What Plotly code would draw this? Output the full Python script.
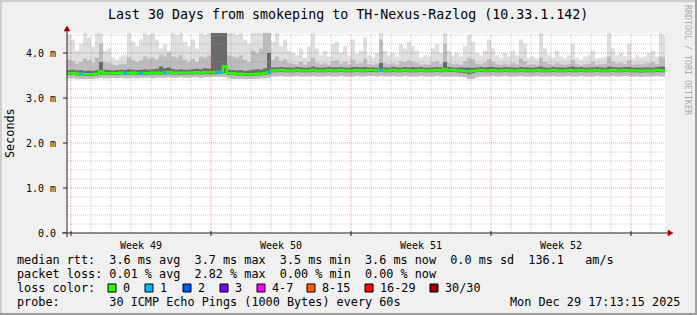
import plotly.graph_objects as go
import pandas as pd

TITLE = "Last 30 Days from smokeping to TH-Nexus-Razlog (10.33.1.142)"
START = "2025-11-29 19:12:00"   # first bucket edge
BUCKET_H = 4.8                  # hours per bucket
X_RANGE = ["2025-11-29 19:12:00", "2025-12-29 16:48:00"]
Y_MAX = 4.4444

# median rtt (ms) per bucket
median = [
    3.55,3.55,3.54,3.54,3.53,3.53,3.53,3.54,3.59,3.55,
    3.55,3.55,3.55,3.56,3.55,3.55,3.56,3.55,3.55,3.55,
    3.55,3.56,3.56,3.55,3.56,3.57,3.56,3.56,3.56,3.56,
    3.56,3.56,3.57,3.56,3.57,3.57,3.57,3.57,3.58,3.70,
    3.55,3.55,3.54,3.54,3.53,3.53,3.53,3.54,3.54,3.55,
    3.57,3.61,3.61,3.62,3.61,3.61,3.61,3.62,3.61,3.61,
    3.61,3.62,3.61,3.61,3.61,3.62,3.61,3.61,3.62,3.61,
    3.61,3.61,3.62,3.61,3.61,3.62,3.62,3.61,3.62,3.61,
    3.61,3.62,3.61,3.61,3.62,3.61,3.61,3.61,3.62,3.61,
    3.61,3.61,3.62,3.61,3.64,3.62,3.62,3.61,3.61,3.60,
    3.59,3.60,3.61,3.62,3.61,3.61,3.62,3.61,3.61,3.62,
    3.61,3.61,3.61,3.62,3.61,3.61,3.61,3.62,3.61,3.61,
    3.61,3.62,3.61,3.61,3.61,3.62,3.61,3.61,3.62,3.61,
    3.61,3.61,3.62,3.61,3.61,3.61,3.62,3.61,3.61,3.62,
    3.61,3.61,3.61,3.60,3.61,3.61,3.61,3.62,3.61,3.61,
]

# lost pings per bucket (out of 30)
loss = [0]*150
loss_events = {3: 1, 14: 1, 18: 1, 24: 1, 37: 1, 38: 1, 50: 1, 78: 1}
for k, v in loss_events.items():
    loss[k] = v

# lowest ping (ms)
smoke_lo = [
    3.44,3.44,3.43,3.43,3.42,3.43,3.43,3.44,3.45,3.44,
    3.44,3.45,3.44,3.45,3.44,3.44,3.45,3.44,3.45,3.45,
    3.45,3.44,3.45,3.45,3.45,3.46,3.45,3.45,3.46,3.45,
    3.45,3.46,3.46,3.45,3.46,3.46,3.47,3.47,3.47,3.47,
    3.44,3.43,3.43,3.43,3.42,3.42,3.43,3.43,3.44,3.44,
    3.45,3.48,3.48,3.49,3.48,3.48,3.48,3.49,3.48,3.48,
    3.48,3.49,3.48,3.48,3.48,3.49,3.48,3.48,3.49,3.48,
    3.48,3.48,3.49,3.48,3.48,3.49,3.49,3.48,3.49,3.48,
    3.48,3.49,3.48,3.48,3.49,3.48,3.48,3.48,3.49,3.48,
    3.48,3.48,3.49,3.48,3.47,3.48,3.48,3.48,3.47,3.46,
    3.42,3.43,3.46,3.48,3.48,3.48,3.49,3.48,3.48,3.49,
    3.48,3.48,3.48,3.49,3.48,3.48,3.48,3.49,3.48,3.48,
    3.48,3.49,3.48,3.48,3.48,3.49,3.48,3.48,3.49,3.48,
    3.48,3.48,3.49,3.48,3.48,3.48,3.49,3.48,3.48,3.49,
    3.48,3.48,3.48,3.47,3.48,3.48,3.48,3.49,3.48,3.48,
]

# bottom of dense core
core_lo = [
    3.51,3.51,3.50,3.50,3.49,3.49,3.49,3.50,3.52,3.51,
    3.51,3.51,3.51,3.52,3.51,3.51,3.52,3.51,3.51,3.51,
    3.51,3.52,3.52,3.51,3.52,3.53,3.52,3.52,3.52,3.52,
    3.52,3.52,3.53,3.52,3.53,3.53,3.53,3.53,3.54,3.55,
    3.51,3.51,3.50,3.50,3.49,3.49,3.49,3.50,3.50,3.51,
    3.53,3.57,3.57,3.58,3.57,3.57,3.57,3.58,3.57,3.57,
    3.57,3.58,3.57,3.57,3.57,3.58,3.57,3.57,3.58,3.57,
    3.57,3.57,3.58,3.57,3.57,3.58,3.58,3.57,3.58,3.57,
    3.57,3.58,3.57,3.57,3.58,3.57,3.57,3.57,3.58,3.57,
    3.57,3.57,3.58,3.57,3.59,3.58,3.58,3.57,3.56,3.55,
    3.53,3.55,3.57,3.58,3.57,3.57,3.58,3.57,3.57,3.58,
    3.57,3.57,3.57,3.58,3.57,3.57,3.57,3.58,3.57,3.57,
    3.57,3.58,3.57,3.57,3.57,3.58,3.57,3.57,3.58,3.57,
    3.57,3.57,3.58,3.57,3.57,3.57,3.58,3.57,3.57,3.58,
    3.57,3.57,3.57,3.56,3.57,3.57,3.57,3.58,3.57,3.57,
]

# top of dense core
core_hi = [
    3.62,3.63,3.61,3.62,3.60,3.61,3.60,3.62,3.80,3.63,
    3.62,3.61,3.62,3.63,3.62,3.64,3.63,3.62,3.63,3.64,
    3.63,3.64,3.65,3.70,3.66,3.68,3.64,3.63,3.64,3.63,
    3.63,3.64,3.65,3.64,3.66,3.65,4.50,4.50,4.50,4.50,
    3.63,3.62,3.61,3.62,3.60,3.61,3.63,3.64,3.63,3.66,
    4.00,3.68,3.68,3.69,3.68,3.68,3.67,3.69,3.68,3.67,
    3.68,3.70,3.68,3.67,3.68,3.69,3.68,3.68,3.69,3.68,
    3.67,3.69,3.69,3.68,3.69,3.68,3.68,3.67,3.78,3.68,
    3.67,3.69,3.68,3.67,3.69,3.68,3.69,3.68,3.69,3.67,
    3.68,3.68,3.69,3.68,3.80,3.69,3.68,3.67,3.68,3.68,
    3.68,3.67,3.68,3.69,3.68,3.69,3.69,3.68,3.67,3.69,
    3.68,3.68,3.67,3.69,3.68,3.68,3.67,3.69,3.70,3.68,
    3.67,3.69,3.68,3.68,3.67,3.69,3.70,3.68,3.69,3.67,
    3.68,3.68,3.69,3.68,3.67,3.70,3.69,3.68,3.68,3.69,
    3.69,3.67,3.68,3.67,3.68,3.68,3.67,3.69,3.70,3.70,
]

# top of the middle smoke
smoke_mid = [
    3.85,3.82,3.76,3.80,3.88,3.84,3.78,3.90,4.20,3.80,
    3.78,3.74,3.72,3.75,3.76,3.90,3.85,3.80,3.84,3.92,
    3.88,3.90,3.86,3.95,3.92,4.00,3.92,3.90,3.95,3.85,
    3.80,3.86,3.80,3.92,3.90,3.95,4.50,4.50,4.50,4.50,
    3.95,3.92,3.90,3.95,3.85,3.80,4.05,4.00,4.10,4.50,
    4.50,3.85,3.92,3.82,3.86,3.78,3.76,3.75,3.80,3.74,
    3.80,3.90,3.78,3.75,3.78,3.74,3.82,3.84,3.76,3.80,
    3.75,3.85,3.76,3.78,3.88,3.75,3.74,3.76,4.30,3.78,
    3.75,3.77,3.74,3.82,3.80,3.84,3.80,3.78,3.74,3.75,
    3.74,3.80,3.82,3.76,4.20,3.78,3.75,3.76,3.74,3.82,
    3.90,3.86,3.76,3.75,3.78,3.86,3.80,3.75,3.74,3.76,
    3.74,3.78,3.75,3.88,3.82,3.74,3.75,3.74,3.90,3.80,
    3.76,3.74,3.78,3.75,3.74,3.76,3.85,3.75,3.73,3.75,
    3.76,3.80,3.74,3.75,3.76,3.92,3.80,3.76,3.78,3.75,
    3.84,3.74,3.76,3.75,3.76,3.78,3.80,3.75,3.92,3.90,
]

# highest ping (ms)
smoke_hi = [
    4.40,4.30,4.05,4.20,4.44,4.35,4.15,4.44,4.44,4.05,
    4.10,3.90,3.85,3.92,3.95,4.44,4.25,4.15,4.30,4.44,
    4.40,4.44,4.30,4.10,4.20,4.05,4.44,4.40,4.44,4.25,
    4.15,4.30,4.10,4.44,4.40,4.44,4.50,4.50,4.50,4.50,
    4.44,4.44,4.40,4.44,4.30,4.20,4.50,4.50,4.50,4.50,
    4.50,4.25,4.44,4.15,4.30,4.05,4.00,3.95,4.10,3.90,
    4.15,4.44,4.10,3.95,4.05,3.92,4.20,4.25,4.00,4.15,
    3.95,4.30,3.98,4.05,4.35,3.95,3.90,4.00,4.50,4.05,
    3.95,4.00,3.92,4.20,4.10,4.25,4.15,4.05,3.90,3.95,
    3.92,4.10,4.20,4.00,4.44,4.05,3.95,4.00,3.92,4.15,
    4.40,4.25,4.00,3.95,4.05,4.30,4.10,3.95,3.90,4.00,
    3.92,4.05,3.95,4.30,4.20,3.90,3.92,3.88,4.44,4.10,
    3.95,3.90,4.05,3.92,3.88,3.95,4.20,3.90,3.85,3.92,
    3.95,4.05,3.88,3.90,3.92,4.44,4.10,3.95,4.00,3.92,
    4.20,3.88,3.95,3.90,3.92,4.00,4.05,3.92,4.44,4.40,
]

loss_colors = {0: "#26ff00", 1: "#00b8ff", 2: "#0059ff", 3: "#7e00ff",
               4: "#ff00ff", 8: "#ff5e00", 16: "#ff0000", 30: "#a10000"}
legend_labels = ["0", "1", "2", "3", "4-7", "8-15", "16-29", "30/30"]
legend_keys = [0, 1, 2, 3, 4, 8, 16, 30]

week_ticks = ["2025-12-03 12:00", "2025-12-10 12:00", "2025-12-17 12:00", "2025-12-24 12:00"]
week_labels = ["Week 49", "Week 50", "Week 51", "Week 52"]
y_ticks = [0, 1, 2, 3, 4]
y_labels = ["0.0", "1.0 m", "2.0 m", "3.0 m", "4.0 m"]

stats_rows = [
    "median rtt:  3.6 ms avg  3.7 ms max  3.5 ms min  3.6 ms now  0.0 ms sd  136.1   am/s",
    "packet loss: 0.01 % avg  2.82 % max  0.00 % min  0.00 % now",
]
probe_text = "probe:       30 ICMP Echo Pings (1000 Bytes) every 60s"
date_text = "Mon Dec 29 17:13:15 2025"

# ---------------------------------------------------------------
FONT = "DejaVu Sans Mono"
W, H = 697, 315
L, R, T, B = 67, 665, 33, 233

def px(x):
    return (x - L) / (R - L)

def py(y):
    return (B - y) / (B - T)

start = pd.Timestamp(START)
n = len(median)
edges = [(start + pd.Timedelta(hours=BUCKET_H * k)).strftime("%Y-%m-%d %H:%M:%S") for k in range(n + 1)]

def stepped(vals):
    return list(vals) + [vals[-1]]

fig = go.Figure()

def band(lower, upper, color):
    fig.add_trace(go.Scatter(x=edges, y=stepped(lower), mode="lines", line=dict(width=0, shape="hv"),
                             hoverinfo="skip", showlegend=False))
    fig.add_trace(go.Scatter(x=edges, y=stepped(upper), mode="lines", line=dict(width=0, shape="hv"),
                             fill="tonexty", fillcolor=color, hoverinfo="skip", showlegend=False))

band(smoke_lo, smoke_hi, "#dfdfdf")
band(smoke_lo, smoke_mid, "#bdbdbd")
band(core_lo, core_hi, "#6a6a6a")

fig.add_trace(go.Scatter(x=edges, y=stepped(median), mode="lines",
                         line=dict(color=loss_colors[0], width=2.5, shape="hv"),
                         hoverinfo="skip", showlegend=False))

def loss_key(v):
    k = 0
    for key in legend_keys:
        if v >= key:
            k = key
    return k

seg = {}
for i, v in enumerate(loss):
    if v > 0:
        key = loss_key(v)
        xs, ys = seg.setdefault(key, ([], []))
        xs += [edges[i], edges[i + 1], None]
        ys += [median[i], median[i], None]
for key, (xs, ys) in seg.items():
    fig.add_trace(go.Scatter(x=xs, y=ys, mode="lines", line=dict(color=loss_colors[key], width=2.5),
                             hoverinfo="skip", showlegend=False))

shapes = []
# grid (drawn above smoke, like rrdtool)
days = pd.date_range("2025-11-30", "2025-12-29", freq="D")
for d in days:
    major = d.weekday() == 6
    shapes.append(dict(type="line", xref="x", yref="paper", x0=d, x1=d, y0=0, y1=1, layer="above",
                       line=dict(color="rgba(220,60,60,0.5)" if major else "rgba(150,150,150,0.5)",
                                 width=1, dash="1px,1px")))
for k in range(1, 23):
    v = k * 0.2
    major = k % 5 == 0
    shapes.append(dict(type="line", xref="paper", yref="y", x0=0, x1=1, y0=v, y1=v, layer="above",
                       line=dict(color="rgba(220,60,60,0.5)" if major else "rgba(150,150,150,0.5)",
                                 width=1, dash="1px,1px")))

# axes with arrows
axis_col = "#202020"
arrow_col = "#a00000"
shapes.append(dict(type="line", xref="paper", yref="paper", x0=px(62), x1=px(669), y0=py(233), y1=py(233),
                   line=dict(color=axis_col, width=1), layer="above"))
shapes.append(dict(type="line", xref="paper", yref="paper", x0=px(67), x1=px(67), y0=py(237), y1=py(30),
                   line=dict(color=axis_col, width=1), layer="above"))
shapes.append(dict(type="path", xref="paper", yref="paper",
                   path=f"M {px(668)} {py(230)} L {px(673)} {py(233)} L {px(668)} {py(236)} Z",
                   fillcolor=arrow_col, line=dict(color=arrow_col, width=0.5), layer="above"))
shapes.append(dict(type="path", xref="paper", yref="paper",
                   path=f"M {px(64)} {py(31)} L {px(67)} {py(26)} L {px(70)} {py(31)} Z",
                   fillcolor=arrow_col, line=dict(color=arrow_col, width=0.5), layer="above"))
# x tick marks on week boundaries
for d in days:
    if d.weekday() == 6:
        shapes.append(dict(type="line", xref="x", yref="paper", x0=d, x1=d, y0=py(231), y1=py(236),
                           line=dict(color=axis_col, width=1), layer="above"))
for v in y_ticks:
    shapes.append(dict(type="line", xref="paper", yref="y", x0=px(63), x1=px(67), y0=v, y1=v,
                       line=dict(color=axis_col, width=1), layer="above"))

# frame
shapes.append(dict(type="line", xref="paper", yref="paper", x0=px(0), x1=px(697), y0=py(1), y1=py(1),
                   line=dict(color="#cfcfcf", width=2)))
shapes.append(dict(type="line", xref="paper", yref="paper", x0=px(1), x1=px(1), y0=py(0), y1=py(315),
                   line=dict(color="#cfcfcf", width=2)))
shapes.append(dict(type="line", xref="paper", yref="paper", x0=px(0), x1=px(697), y0=py(314), y1=py(314),
                   line=dict(color="#9e9e9e", width=2)))
shapes.append(dict(type="line", xref="paper", yref="paper", x0=px(696), x1=px(696), y0=py(0), y1=py(315),
                   line=dict(color="#9e9e9e", width=2)))

annotations = []
def txt(x, y, s, size=11.8, anchor="left", color="#000000", angle=0):
    annotations.append(dict(x=px(x), y=py(y), xref="paper", yref="paper", text=s.replace(" ", "\u00a0"),
                            showarrow=False, xanchor=anchor, yanchor="middle", textangle=angle,
                            font=dict(family=FONT, size=size, color=color), borderpad=0))

txt(348, 14, TITLE, size=13.3, anchor="center")
txt(10, 133, "Seconds", anchor="center", angle=-90)
txt(688, 60, "RRDTOOL / TOBI OETIKER", size=8.3, anchor="center", color="#a8a8a8", angle=90)
txt(16, 260, stats_rows[0])
txt(16, 274, stats_rows[1])
txt(16, 288, "loss color:")
box_x = [108, 145, 183, 220, 257, 307, 365, 430]
for bx, key, lab in zip(box_x, legend_keys, legend_labels):
    shapes.append(dict(type="rect", xref="paper", yref="paper", x0=px(bx), x1=px(bx + 8), y0=py(284), y1=py(292),
                       fillcolor=loss_colors[key], line=dict(color="#000000", width=1)))
    txt(bx + 14, 288, lab)
txt(16, 302, probe_text)
txt(681, 302, date_text, anchor="right")

fig.update_layout(
    width=W, height=H,
    margin=dict(l=L, r=W - R, t=T, b=H - B),
    paper_bgcolor="#f0f0f0", plot_bgcolor="#ffffff",
    showlegend=False,
    shapes=shapes, annotations=annotations,
    font=dict(family=FONT, size=10, color="#000000"),
)
fig.update_xaxes(range=X_RANGE, tickvals=week_ticks, ticktext=week_labels, showgrid=False,
                 zeroline=False, showline=False, ticks="outside", ticklen=3, tickcolor="rgba(0,0,0,0)",
                 tickfont=dict(family=FONT, size=10))
fig.update_yaxes(range=[0, Y_MAX], tickvals=y_ticks, ticktext=y_labels, showgrid=False,
                 zeroline=False, showline=False, ticks="outside", ticklen=8, tickcolor="rgba(0,0,0,0)",
                 tickfont=dict(family=FONT, size=10))

fig.write_html("out.html")
